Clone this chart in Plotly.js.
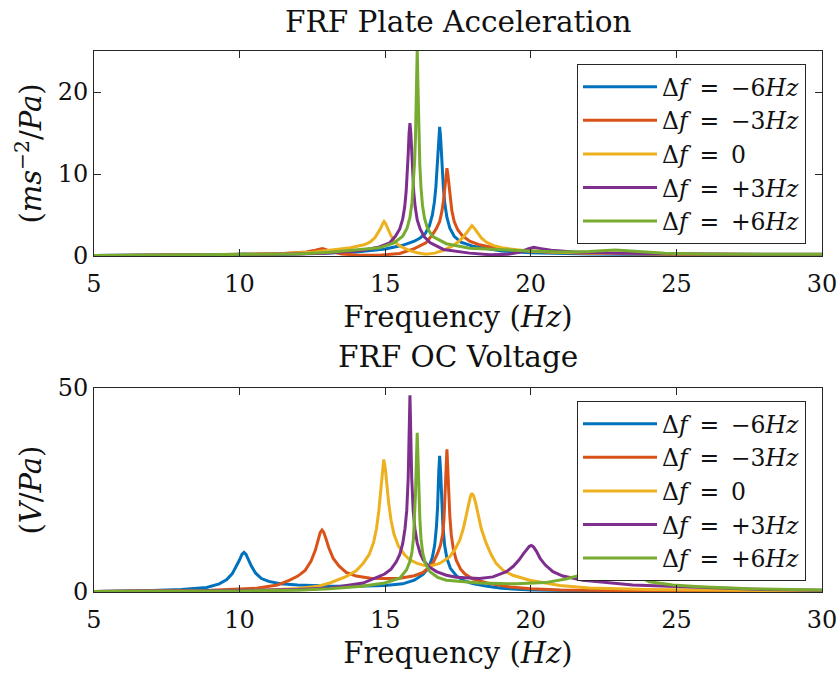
<!DOCTYPE html>
<html>
<head>
<meta charset="utf-8">
<script src="https://cdn.plot.ly/plotly-3.0.1.min.js"></script>
<style>html,body{margin:0;padding:0;background:#fff;}#chart{width:837px;height:675px;}</style>
</head>
<body>
<div id="chart"></div>
<script>
// ---------- data ----------
const SP = '\u2002'; // math-like spacing around "="
const seriesNames = ['Δ<i>f</i>' + SP + '=' + SP + '−6<i>Hz</i>', 'Δ<i>f</i>' + SP + '=' + SP + '−3<i>Hz</i>', 'Δ<i>f</i>' + SP + '=' + SP + '0', 'Δ<i>f</i>' + SP + '=' + SP + '+3<i>Hz</i>', 'Δ<i>f</i>' + SP + '=' + SP + '+6<i>Hz</i>'];
const xTicks = [5, 10, 15, 20, 25, 30];
const yTicksAcc = [0, 10, 20];
const yTicksVolt = [0, 50];

// Top: FRF Plate Acceleration
const fBlueAcc = [5,7,9,9.8,10.15,10.5,11.5,13,14,15,15.6,16.0,16.2,16.37,16.52,16.62,16.69,16.74,16.78,16.81,16.84,16.87,16.9,16.93,16.96,17.0,17.05,17.12,17.22,17.37,17.6,18,19,20,22,25,30];
const accBlue  = [0.05,0.08,0.12,0.18,0.25,0.18,0.2,0.35,0.5,0.85,1.3,1.8,2.2,2.7,3.7,5.0,6.6,8.4,10.6,12.7,14.5,15.75,14.6,12.6,10.4,8.2,6.3,4.7,3.4,2.4,1.7,1.2,0.6,0.4,0.25,0.15,0.1];

const fOrangeAcc = [5,8,10,11.5,12.3,12.6,12.75,12.84,12.95,13.1,13.5,14,14.8,15.5,16,16.4,16.6,16.75,16.87,16.95,17.01,17.05,17.09,17.12,17.15,17.19,17.23,17.29,17.37,17.49,17.64,17.9,18.2,18.6,19.5,20.5,22,25,30];
const accOrange  = [0.03,0.08,0.15,0.3,0.5,0.7,0.85,0.9,0.8,0.6,0.25,0.12,0.1,0.3,0.9,1.6,2.5,3.3,4.2,5.5,7.0,8.3,10.0,10.7,10.0,8.5,7.0,5.5,4.2,3.2,2.5,1.8,1.4,1.1,0.7,0.5,0.35,0.2,0.1];

const fYellowAcc = [5,8,10,11.5,12.5,13.1,13.8,14.3,14.5,14.65,14.76,14.85,14.91,14.96,15.02,15.09,15.18,15.3,15.45,15.65,15.84,16.1,16.4,16.7,17.0,17.3,17.5,17.68,17.8,17.9,17.98,18.06,18.16,18.3,18.47,18.7,19.0,19.5,20,21,23,26,30];
const accYellow  = [0.03,0.1,0.2,0.3,0.45,0.7,1.0,1.4,1.75,2.25,2.8,3.4,3.9,4.2,3.9,3.3,2.6,1.9,1.35,0.95,0.65,0.4,0.22,0.35,0.7,1.2,1.7,2.3,2.85,3.35,3.7,3.4,2.85,2.2,1.7,1.3,1.0,0.75,0.6,0.45,0.3,0.2,0.12];

const fPurpleAcc = [5,8,10,12,13,14.24,14.8,15.15,15.35,15.5,15.6,15.67,15.72,15.76,15.79,15.82,15.85,15.88,15.91,15.94,15.98,16.03,16.1,16.2,16.35,16.55,17.0,17.9,18.6,19.2,19.6,19.9,20.1,20.35,20.7,21.5,23,26,30];
const accPurple  = [0.05,0.1,0.15,0.25,0.35,0.7,1.1,1.6,2.4,3.3,4.5,6.0,7.9,10.0,12.4,15.0,16.2,15.0,12.4,10.0,7.8,6.0,4.4,3.3,2.3,1.6,0.8,0.35,0.15,0.2,0.45,0.85,1.05,0.9,0.7,0.5,0.35,0.25,0.2];

const fGreenAcc = [5,8,10,12,13.1,14,14.8,15.3,15.6,15.75,15.85,15.92,15.97,16.01,16.04,16.06,16.08,16.1,16.12,16.14,16.16,16.19,16.23,16.28,16.35,16.45,16.62,17.1,17.9,19,20,21,22,22.6,22.9,23.3,24,24.6,26,29.2,30];
const accGreen  = [0.05,0.1,0.15,0.25,0.45,0.7,1.0,1.6,2.4,3.4,4.7,6.5,8.8,11.5,14.5,18,21.5,25.3,21.5,18,14.5,11.0,8.3,6.2,4.6,3.4,2.4,1.5,0.95,0.75,0.6,0.5,0.55,0.68,0.73,0.65,0.45,0.35,0.25,0.2,0.2];

// Bottom: FRF OC Voltage
const fBlueV = [5,6,7,8,8.87,9.3,9.55,9.75,9.9,10.0,10.08,10.15,10.22,10.3,10.4,10.55,10.75,11.0,11.4,12,13,14,15,15.6,16.0,16.3,16.5,16.62,16.7,16.76,16.8,16.84,16.87,16.9,16.94,16.98,17.04,17.12,17.24,17.44,17.7,18.0,18.5,19,20,22,25,30];
const voltBlue = [0.15,0.2,0.35,0.6,1.1,2.0,3.0,4.5,6.4,7.9,9.2,9.7,9.2,7.9,6.4,4.6,3.3,2.6,2.0,1.7,1.45,1.4,1.6,2.0,2.9,4.3,6.0,8.5,11.5,16,21,29.5,33.4,30,22,16.5,11.5,8.2,5.8,4.0,2.8,2.1,1.4,0.9,0.5,0.3,0.2,0.15];

const fOrangeV = [5,7,9,10.58,11.3,11.72,12.0,12.25,12.45,12.6,12.7,12.77,12.83,12.89,12.96,13.06,13.21,13.41,13.66,14.0,14.5,15.0,15.5,16.0,16.3,16.5,16.65,16.8,16.9,16.97,17.02,17.06,17.09,17.12,17.15,17.18,17.22,17.27,17.34,17.44,17.59,17.74,18.0,18.5,19.3,20,21,25,30];
const voltOrange = [0.1,0.2,0.45,0.9,1.7,2.9,3.9,5.3,7.5,10.2,12.9,14.6,15.2,14.6,13.2,10.9,8.3,6.4,4.8,3.9,3.4,3.3,3.4,4.0,4.8,6.0,7.2,9.5,11.5,14,18,24,30,35,30,24,18.5,14,10.5,7.8,5.6,4.4,3.2,2.2,1.2,0.8,0.5,0.2,0.1];

const fYellowV = [5,8,10,11,12,12.7,13.1,13.67,14.0,14.24,14.45,14.6,14.7,14.78,14.84,14.9,14.95,15.0,15.06,15.12,15.2,15.3,15.45,15.66,15.84,16.1,16.3,16.53,16.87,17.21,17.4,17.56,17.68,17.79,17.87,17.93,17.98,18.04,18.1,18.18,18.3,18.47,18.65,18.81,19.05,19.38,19.96,21,22,24,27,30];
const voltYellow = [0.1,0.2,0.3,0.5,0.85,1.4,2.2,3.8,5.2,7.0,9.2,12.1,15.5,19.8,24,29.5,32.5,30.5,26,21.8,17.6,14.2,11.3,9.2,7.9,7.0,6.6,6.3,7.0,8.6,10.5,12.7,15.5,19.0,21.8,23.5,24.2,23.5,22,19.3,15.5,11.9,9.0,7.0,5.3,4.1,2.9,1.6,1.0,0.6,0.35,0.25];

const fPurpleV = [5,8,10,12,13.1,14.24,14.98,15.2,15.38,15.5,15.6,15.68,15.74,15.79,15.82,15.85,15.88,15.91,15.96,16.02,16.1,16.2,16.3,16.5,16.76,17.1,17.44,18.24,18.7,19.16,19.4,19.6,19.75,19.87,19.95,20.02,20.1,20.2,20.32,20.5,20.76,21.1,21.79,23.5,25.8,28,30];
const voltPurple = [0.1,0.2,0.35,0.6,1.0,2.2,4.4,5.6,7.4,9.2,11.8,15.5,20,28,38,48.2,38,28,20,15.5,12.0,9.5,7.9,6.2,5.0,4.1,3.6,3.3,3.7,5.0,6.3,7.9,9.4,10.6,11.2,11.4,11.0,9.9,8.2,6.6,5.0,3.9,2.9,1.7,1.05,0.6,0.4];

const fGreenV = [5,8,10,12,13.1,14.2,14.98,15.5,15.73,15.85,15.92,15.97,16.01,16.04,16.07,16.1,16.13,16.16,16.19,16.23,16.29,16.38,16.53,16.8,17.1,18.24,19.5,20.5,21.2,21.8,22.3,22.7,22.9,23.1,23.3,23.5,24.07,24.87,25.8,27.5,30];
const voltGreen = [0.1,0.15,0.25,0.45,0.8,1.4,2.2,3.4,5.4,7.5,9.8,13,18,24,32,39,32,24,18,13,9.5,7.0,5.0,3.6,2.9,2.2,2.0,2.3,3.2,4.3,6.0,7.5,7.8,7.2,6.0,4.6,2.5,1.7,1.3,0.8,0.5];

// ---------- styling ----------
const colors = ['#0072BD', '#D95319', '#EDB120', '#7E2F8E', '#77AC30'];
const FONT = 'DejaVu Serif, Liberation Serif, serif';
const INK = '#262626';
const TXT = '#111111';

const accX = [fBlueAcc, fOrangeAcc, fYellowAcc, fPurpleAcc, fGreenAcc];
const accY = [accBlue, accOrange, accYellow, accPurple, accGreen];
const voltX = [fBlueV, fOrangeV, fYellowV, fPurpleV, fGreenV];
const voltY = [voltBlue, voltOrange, voltYellow, voltPurple, voltGreen];

const traces = [];
for (let i = 0; i < 5; i++) {
  traces.push({x: accX[i], y: accY[i], type: 'scatter', mode: 'lines', name: seriesNames[i],
    line: {color: colors[i], width: 3}, xaxis: 'x', yaxis: 'y', legend: 'legend'});
}
for (let i = 0; i < 5; i++) {
  traces.push({x: voltX[i], y: voltY[i], type: 'scatter', mode: 'lines', name: seriesNames[i],
    line: {color: colors[i], width: 3}, xaxis: 'x2', yaxis: 'y2', legend: 'legend2'});
}

const axBase = {
  showline: true, linecolor: INK, linewidth: 1, mirror: 'ticks',
  ticks: 'inside', ticklen: 7, tickcolor: INK, tickwidth: 1,
  showgrid: false, zeroline: false,
  tickfont: {family: FONT, size: 24, color: TXT}
};

const H = 541; // plot area height in px (51..592)
const legendBase = {
  font: {family: FONT, size: 23.5, color: TXT},
  bgcolor: '#ffffff', bordercolor: INK, borderwidth: 1,
  xanchor: 'right', yanchor: 'top', x: (806 - 94) / 728, tracegroupgap: 0, itemwidth: 74
};
const axTitleFont = {family: FONT, size: 29, color: TXT};

const layout = {
  width: 837, height: 675,
  margin: {l: 94, r: 15, t: 51, b: 83},
  paper_bgcolor: '#ffffff', plot_bgcolor: '#ffffff',
  showlegend: true,
  xaxis: Object.assign({}, axBase, {domain: [0, 1], anchor: 'y', range: [5, 30], tickvals: xTicks, ticklabelstandoff: 6,
    ticklabeloverflow: 'allow',
    title: {text: 'Frequency (<i>Hz</i>)', font: axTitleFont, standoff: 9}}),
  yaxis: Object.assign({}, axBase, {domain: [(592 - 256) / H, 1], anchor: 'x', range: [0, 25], tickvals: yTicksAcc,
    title: {text: '(<i>ms</i><sup>−2</sup>/<i>Pa</i>)', font: axTitleFont, standoff: 7}}),
  xaxis2: Object.assign({}, axBase, {domain: [0, 1], anchor: 'y2', range: [5, 30], tickvals: xTicks, ticklabelstandoff: 6,
    ticklabeloverflow: 'allow',
    title: {text: 'Frequency (<i>Hz</i>)', font: axTitleFont, standoff: 9}}),
  yaxis2: Object.assign({}, axBase, {domain: [0, (592 - 388) / H], anchor: 'x2', range: [0, 50], tickvals: yTicksVolt,
    title: {text: '(<i>V</i>/<i>Pa</i>)', font: axTitleFont, standoff: 7}}),
  legend: Object.assign({}, legendBase, {y: (592 - 64) / H}),
  legend2: Object.assign({}, legendBase, {y: (592 - 401) / H}),
  annotations: [
    {text: 'FRF Plate Acceleration', xref: 'paper', yref: 'paper', x: 0.5, y: (592 - 22) / H,
     xanchor: 'center', yanchor: 'middle', showarrow: false, font: {family: FONT, size: 29.5, color: TXT}},
    {text: 'FRF OC Voltage', xref: 'paper', yref: 'paper', x: 0.5, y: (592 - 357) / H,
     xanchor: 'center', yanchor: 'middle', showarrow: false, font: {family: FONT, size: 29.5, color: TXT}}
  ]
};

Plotly.newPlot('chart', traces, layout, {staticPlot: true, displayModeBar: false});
</script>
</body>
</html>
